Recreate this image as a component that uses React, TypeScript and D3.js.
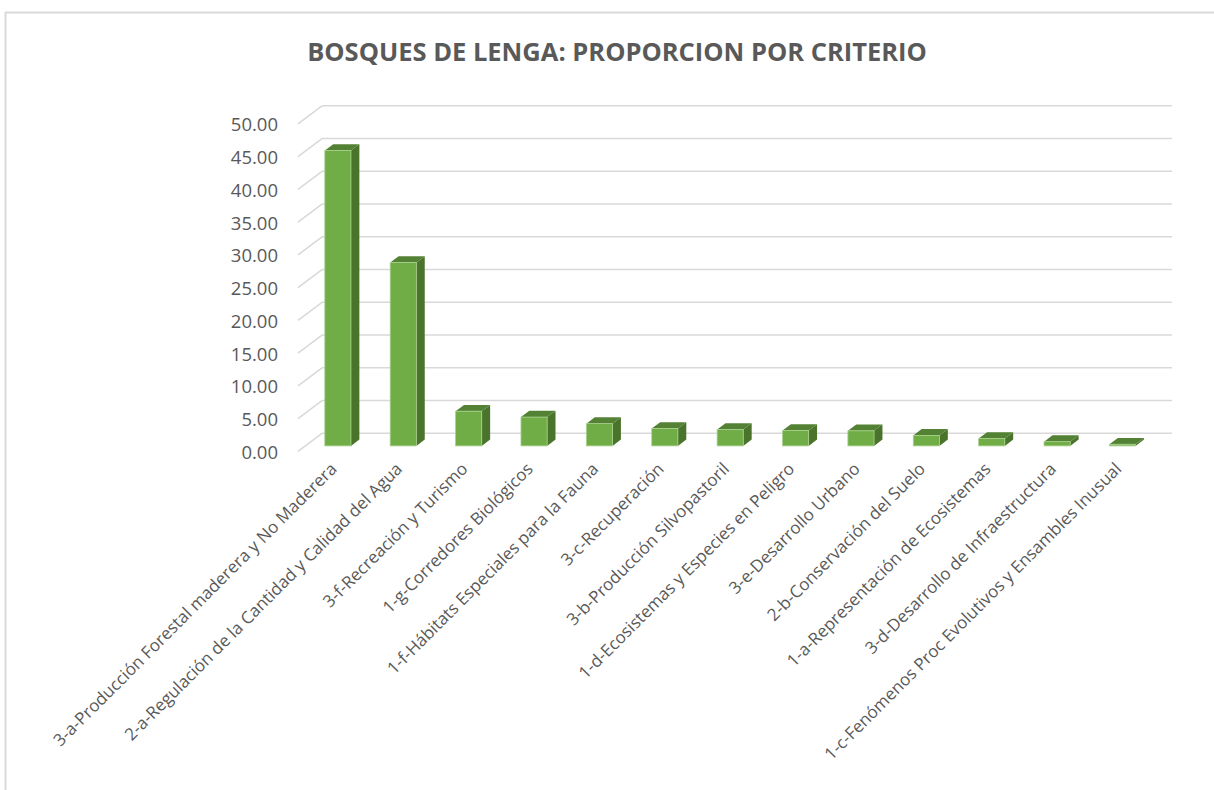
import React from "react";
import * as d3 from "d3";

const categories: string[] = [
  "3-a-Producción Forestal maderera y No Maderera",
  "2-a-Regulación de la Cantidad y Calidad del Agua",
  "3-f-Recreación y Turismo",
  "1-g-Corredores Biológicos",
  "1-f-Hábitats Especiales para la Fauna",
  "3-c-Recuperación",
  "3-b-Producción Silvopastoril",
  "1-d-Ecosistemas y Especies en Peligro",
  "3-e-Desarrollo Urbano",
  "2-b-Conservación del Suelo",
  "1-a-Representación de Ecosistemas",
  "3-d-Desarrollo de Infraestructura",
  "1-c-Fenómenos Proc Evolutivos y Ensambles Inusual",
];

const values: number[] = [45.1, 28.0, 5.3, 4.4, 3.4, 2.65, 2.5, 2.35, 2.3, 1.6, 1.13, 0.65, 0.25];

const yTicks: number[] = [0, 5, 10, 15, 20, 25, 30, 35, 40, 45, 50];

const title = "BOSQUES DE LENGA: PROPORCION POR CRITERIO";

export default function App() {
  const W = 1214;
  const H = 790;
  const frontLeft = 298;
  const frontRight = 1148;
  const frontBase = 451.3;
  const depthX = 24;
  const depthY = -18;
  const f1 = 0.3;
  const f2 = 0.65;

  const x = d3.scaleBand<string>().domain(categories).range([frontLeft, frontRight]).padding(0);
  const y = d3.scaleLinear().domain([0, 50]).range([0, 327.5]);
  const bw = x.bandwidth();
  const barW = bw * 0.4;

  const gridColor = "#d9d9d9";
  const textColor = "#595959";
  const font = "'Open Sans', 'DejaVu Sans', sans-serif";

  return (
    <svg width={W} height={H} style={{ display: "block", position: "absolute", left: 0, top: 0 }}>
      <rect x={0} y={0} width={W} height={H} fill="#ffffff" />
      <line x1={5} y1={12.5} x2={W} y2={12.5} stroke={gridColor} strokeWidth={2} />
      <line x1={5.5} y1={12} x2={5.5} y2={H} stroke={gridColor} strokeWidth={2} />

      <text
        x={617}
        y={61}
        textAnchor="middle"
        fontFamily={font}
        fontWeight={700}
        fontSize={25.5}
        fill={textColor}
      >
        {title}
      </text>

      {yTicks.map((t) => {
        const yf = frontBase - y(t);
        const yb = yf + depthY;
        return (
          <g key={"g" + t}>
            <line x1={frontLeft} y1={yf} x2={frontLeft + depthX} y2={yb} stroke={gridColor} strokeWidth={1.6} />
            <line x1={frontLeft + depthX} y1={yb} x2={frontRight + depthX} y2={yb} stroke={gridColor} strokeWidth={1.6} />
          </g>
        );
      })}

      {yTicks.map((t) => (
        <text
          key={"t" + t}
          x={278}
          y={frontBase - y(t)}
          textAnchor="end"
          dominantBaseline="central"
          fontFamily={font}
          fontSize={18.5}
          fill={textColor}
        >
          {t.toFixed(2)}
        </text>
      ))}

      {categories.map((c, i) => {
        const v = values[i];
        const h = y(v);
        const x0 = (x(c) as number) + (bw - barW) / 2 + f1 * depthX;
        const bottom = frontBase + f1 * depthY;
        const top = bottom - h;
        const dx = (f2 - f1) * depthX;
        const dy = (f2 - f1) * depthY;
        const topFace = [
          [x0, top],
          [x0 + barW, top],
          [x0 + barW + dx, top + dy],
          [x0 + dx, top + dy],
        ];
        const sideFace = [
          [x0 + barW, top],
          [x0 + barW + dx, top + dy],
          [x0 + barW + dx, bottom + dy],
          [x0 + barW, bottom],
        ];
        const toPts = (p: number[][]) => p.map((q) => q.join(",")).join(" ");
        return (
          <g key={"b" + i}>
            <polygon points={toPts(sideFace)} fill="#4a732b" />
            <polygon points={toPts(topFace)} fill="#548235" />
            <rect x={x0} y={top} width={barW} height={h} fill="#70ad47" stroke="#a9d18e" strokeWidth={0.8} />
          </g>
        );
      })}

      {categories.map((c, i) => {
        const cx = (x(c) as number) + bw / 2 + f1 * depthX;
        const cy = 470;
        return (
          <text
            key={"l" + i}
            transform={`translate(${cx},${cy}) rotate(-45)`}
            textAnchor="end"
            fontFamily={font}
            fontSize={17}
            fill={textColor}
          >
            {c}
          </text>
        );
      })}
    </svg>
  );
}
